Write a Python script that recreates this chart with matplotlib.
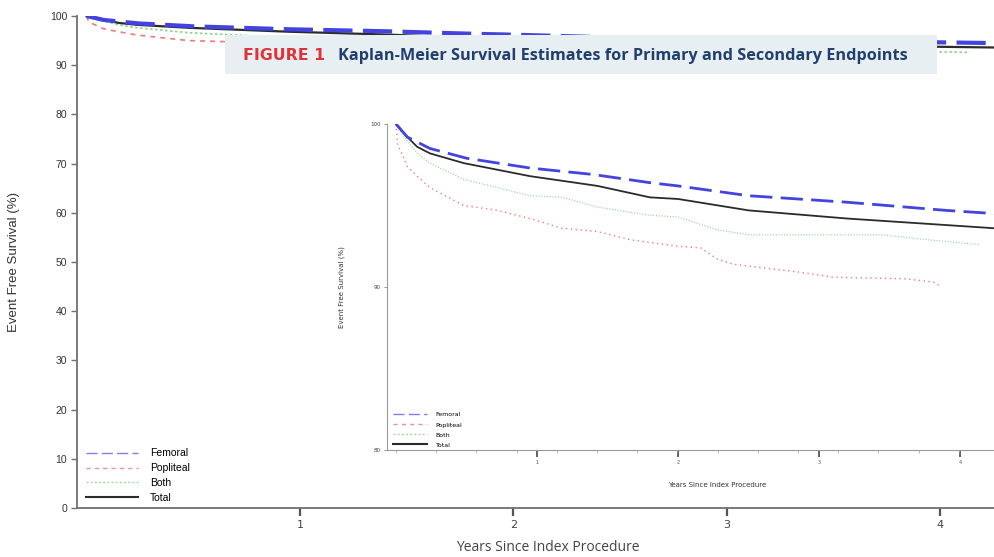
import matplotlib
matplotlib.use('Agg')
import matplotlib.pyplot as plt
from matplotlib.lines import Line2D
from matplotlib.patches import Rectangle
from matplotlib.ticker import MultipleLocator

# Kaplan-Meier estimates (years, event free survival %)
femoralYears = [0, 0.08, 0.24, 0.5, 0.95, 1.4, 1.8, 2.0, 2.5, 3.2, 3.9, 4.25]
femoralSurv = [100, 99.2, 98.5, 97.9, 97.3, 96.9, 96.4, 96.2, 95.6, 95.2, 94.7, 94.5]

popliteaYears = [0, 0.01, 0.08, 0.15, 0.24, 0.48, 0.72, 0.95, 1.18, 1.43, 1.66, 2.0,
                 2.16, 2.28, 2.39, 2.87, 3.10, 3.62, 3.81, 3.85]
popliteaSurv = [100, 98.8, 97.4, 96.8, 96.1, 95.0, 94.7, 94.2, 93.6, 93.4, 92.9, 92.5,
                92.4, 91.7, 91.4, 90.9, 90.6, 90.5, 90.3, 90.1]

bothYears = [0, 0.04, 0.15, 0.24, 0.48, 0.72, 0.95, 1.18, 1.43, 1.8, 2.0, 2.28, 2.51,
             3.45, 3.77, 4.14]
bothSurv = [100, 99.4, 98.2, 97.6, 96.6, 96.1, 95.6, 95.5, 94.9, 94.4, 94.3, 93.5, 93.2,
            93.2, 92.9, 92.6]

totalYears = [0, 0.08, 0.15, 0.24, 0.48, 0.95, 1.43, 1.8, 2.0, 2.5, 3.2, 3.9, 4.25]
totalSurv = [100, 99.2, 98.6, 98.2, 97.6, 96.8, 96.2, 95.5, 95.4, 94.7, 94.2, 93.8, 93.6]

labels = ['Femoral', 'Popliteal', 'Both', 'Total']
yearTicks = [1, 2, 3, 4]

BLUE = '#4343e0'
RED = '#f07a7a'
GREEN = '#8fcf8f'
BLACK = '#2b2b2b'
AXCOL = '#707070'

W, H = 994, 557
fig = plt.figure(figsize=(W / 100, H / 100), dpi=100)


def box(left, top, right, bottom):
    return [left / W, 1 - bottom / H, (right - left) / W, (bottom - top) / H]


# ---- main panel
ax = fig.add_axes(box(77, 16, 994, 508))
ax.plot(femoralYears, femoralSurv, color=BLUE, lw=3, dashes=(7, 2.5), zorder=4)
ax.plot(popliteaYears, popliteaSurv, color=RED, lw=1.2, dashes=(3, 3))
ax.plot(bothYears, bothSurv, color=GREEN, lw=1.2, dashes=(1.5, 1.5))
ax.plot(totalYears, totalSurv, color=BLACK, lw=1.6, zorder=3)
ax.set_xlim(-0.045, 4.254)
ax.set_ylim(0, 100)
ax.set_yticks(range(0, 101, 10))
ax.set_xticks(yearTicks)
for s in ['top', 'right']:
    ax.spines[s].set_visible(False)
for s in ['left', 'bottom']:
    ax.spines[s].set_color(AXCOL)
    ax.spines[s].set_linewidth(1.3)
ax.tick_params(axis='y', length=4, width=1, color=AXCOL, labelsize=7.5, labelcolor='#333333', pad=3)
ax.tick_params(axis='x', length=6, width=1.6, color='#555555', labelsize=8, labelcolor='#444444', pad=3)
for t in ax.get_yticklabels():
    t.set_fontfamily('Liberation Sans')
ax.set_ylabel('Event Free Survival (%)', fontsize=9.5, family='Liberation Sans', color='#333333')
ax.yaxis.set_label_coords(-0.062, 0.5)
ax.set_xlabel('Years Since Index Procedure', fontsize=10, family='Open Sans', color='#444444')
ax.xaxis.label.set_va('center')
ax.xaxis.set_label_coords(0.513, -0.08)

proxies = [Line2D([], [], color='#8080e8', lw=1, dashes=(8, 3)),
           Line2D([], [], color='#f09090', lw=1, dashes=(3, 3)),
           Line2D([], [], color='#a8d8a8', lw=1, dashes=(1.5, 1.5)),
           Line2D([], [], color=BLACK, lw=1.5)]
ax.legend(proxies, labels, loc='lower left', bbox_to_anchor=(0.0, -0.008), frameon=False,
          handlelength=5, handletextpad=1.1, labelspacing=0.45,
          prop={'family': 'Liberation Sans', 'size': 7.5})

# ---- inset panel
ins = fig.add_axes(box(387, 124, 994, 450), zorder=3)
ins.set_facecolor('white')
ins.plot(femoralYears, femoralSurv, color=BLUE, lw=2, dashes=(8, 3), zorder=4)
ins.plot(popliteaYears, popliteaSurv, color=RED, lw=1, dashes=(1, 2.5))
ins.plot(bothYears, bothSurv, color=GREEN, lw=0.8, dashes=(1, 1.5))
ins.plot(totalYears, totalSurv, color=BLACK, lw=1.3, zorder=3)
ins.set_xlim(-0.064, 4.24)
ins.set_ylim(80, 100)
ins.set_yticks([80, 90, 100])
ins.set_xticks(yearTicks)
ins.xaxis.set_minor_locator(MultipleLocator(0.285))
for s in ['top', 'right']:
    ins.spines[s].set_visible(False)
for s in ['left', 'bottom']:
    ins.spines[s].set_color('#9a9a9a')
    ins.spines[s].set_linewidth(0.8)
ins.tick_params(axis='y', length=2.5, width=0.6, color='#888888', labelsize=4, labelcolor='#444444', pad=2)
ins.tick_params(axis='x', which='major', length=5, width=1.3, color='#555555', labelsize=3.5,
                labelcolor='#555555', pad=2)
ins.tick_params(axis='x', which='minor', length=2, width=0.5, color='#999999')
ins.set_ylabel('Event Free Survival (%)', fontsize=5, color='#333333')
ins.yaxis.set_label_coords(-0.069, 0.5)
ins.set_xlabel('Years Since Index Procedure', fontsize=5, color='#333333')
ins.xaxis.set_label_coords(0.544, -0.098)
ins.legend(proxies, labels, loc='lower left', bbox_to_anchor=(0.0, -0.01), frameon=False,
           handlelength=5.5, handletextpad=1.4, labelspacing=0.75,
           prop={'size': 4.5})

# ---- title banner
fig.patches.append(Rectangle((225 / W, 1 - 74 / H), 712 / W, 39 / H, transform=fig.transFigure,
                             facecolor='#e8eff2', edgecolor='none', zorder=5))
fig.text(243 / W, 1 - 56 / H, 'FIGURE 1', color='#e0323b', fontsize=11.3,
         fontweight='bold', family='DejaVu Sans', va='center', zorder=6)
fig.text(338 / W, 1 - 56 / H, 'Kaplan-Meier Survival Estimates for Primary and Secondary Endpoints',
         color='#213f6e', fontsize=11.7, fontweight='bold', family='Open Sans', va='center', zorder=6)

fig.savefig('out.png', dpi=100)
